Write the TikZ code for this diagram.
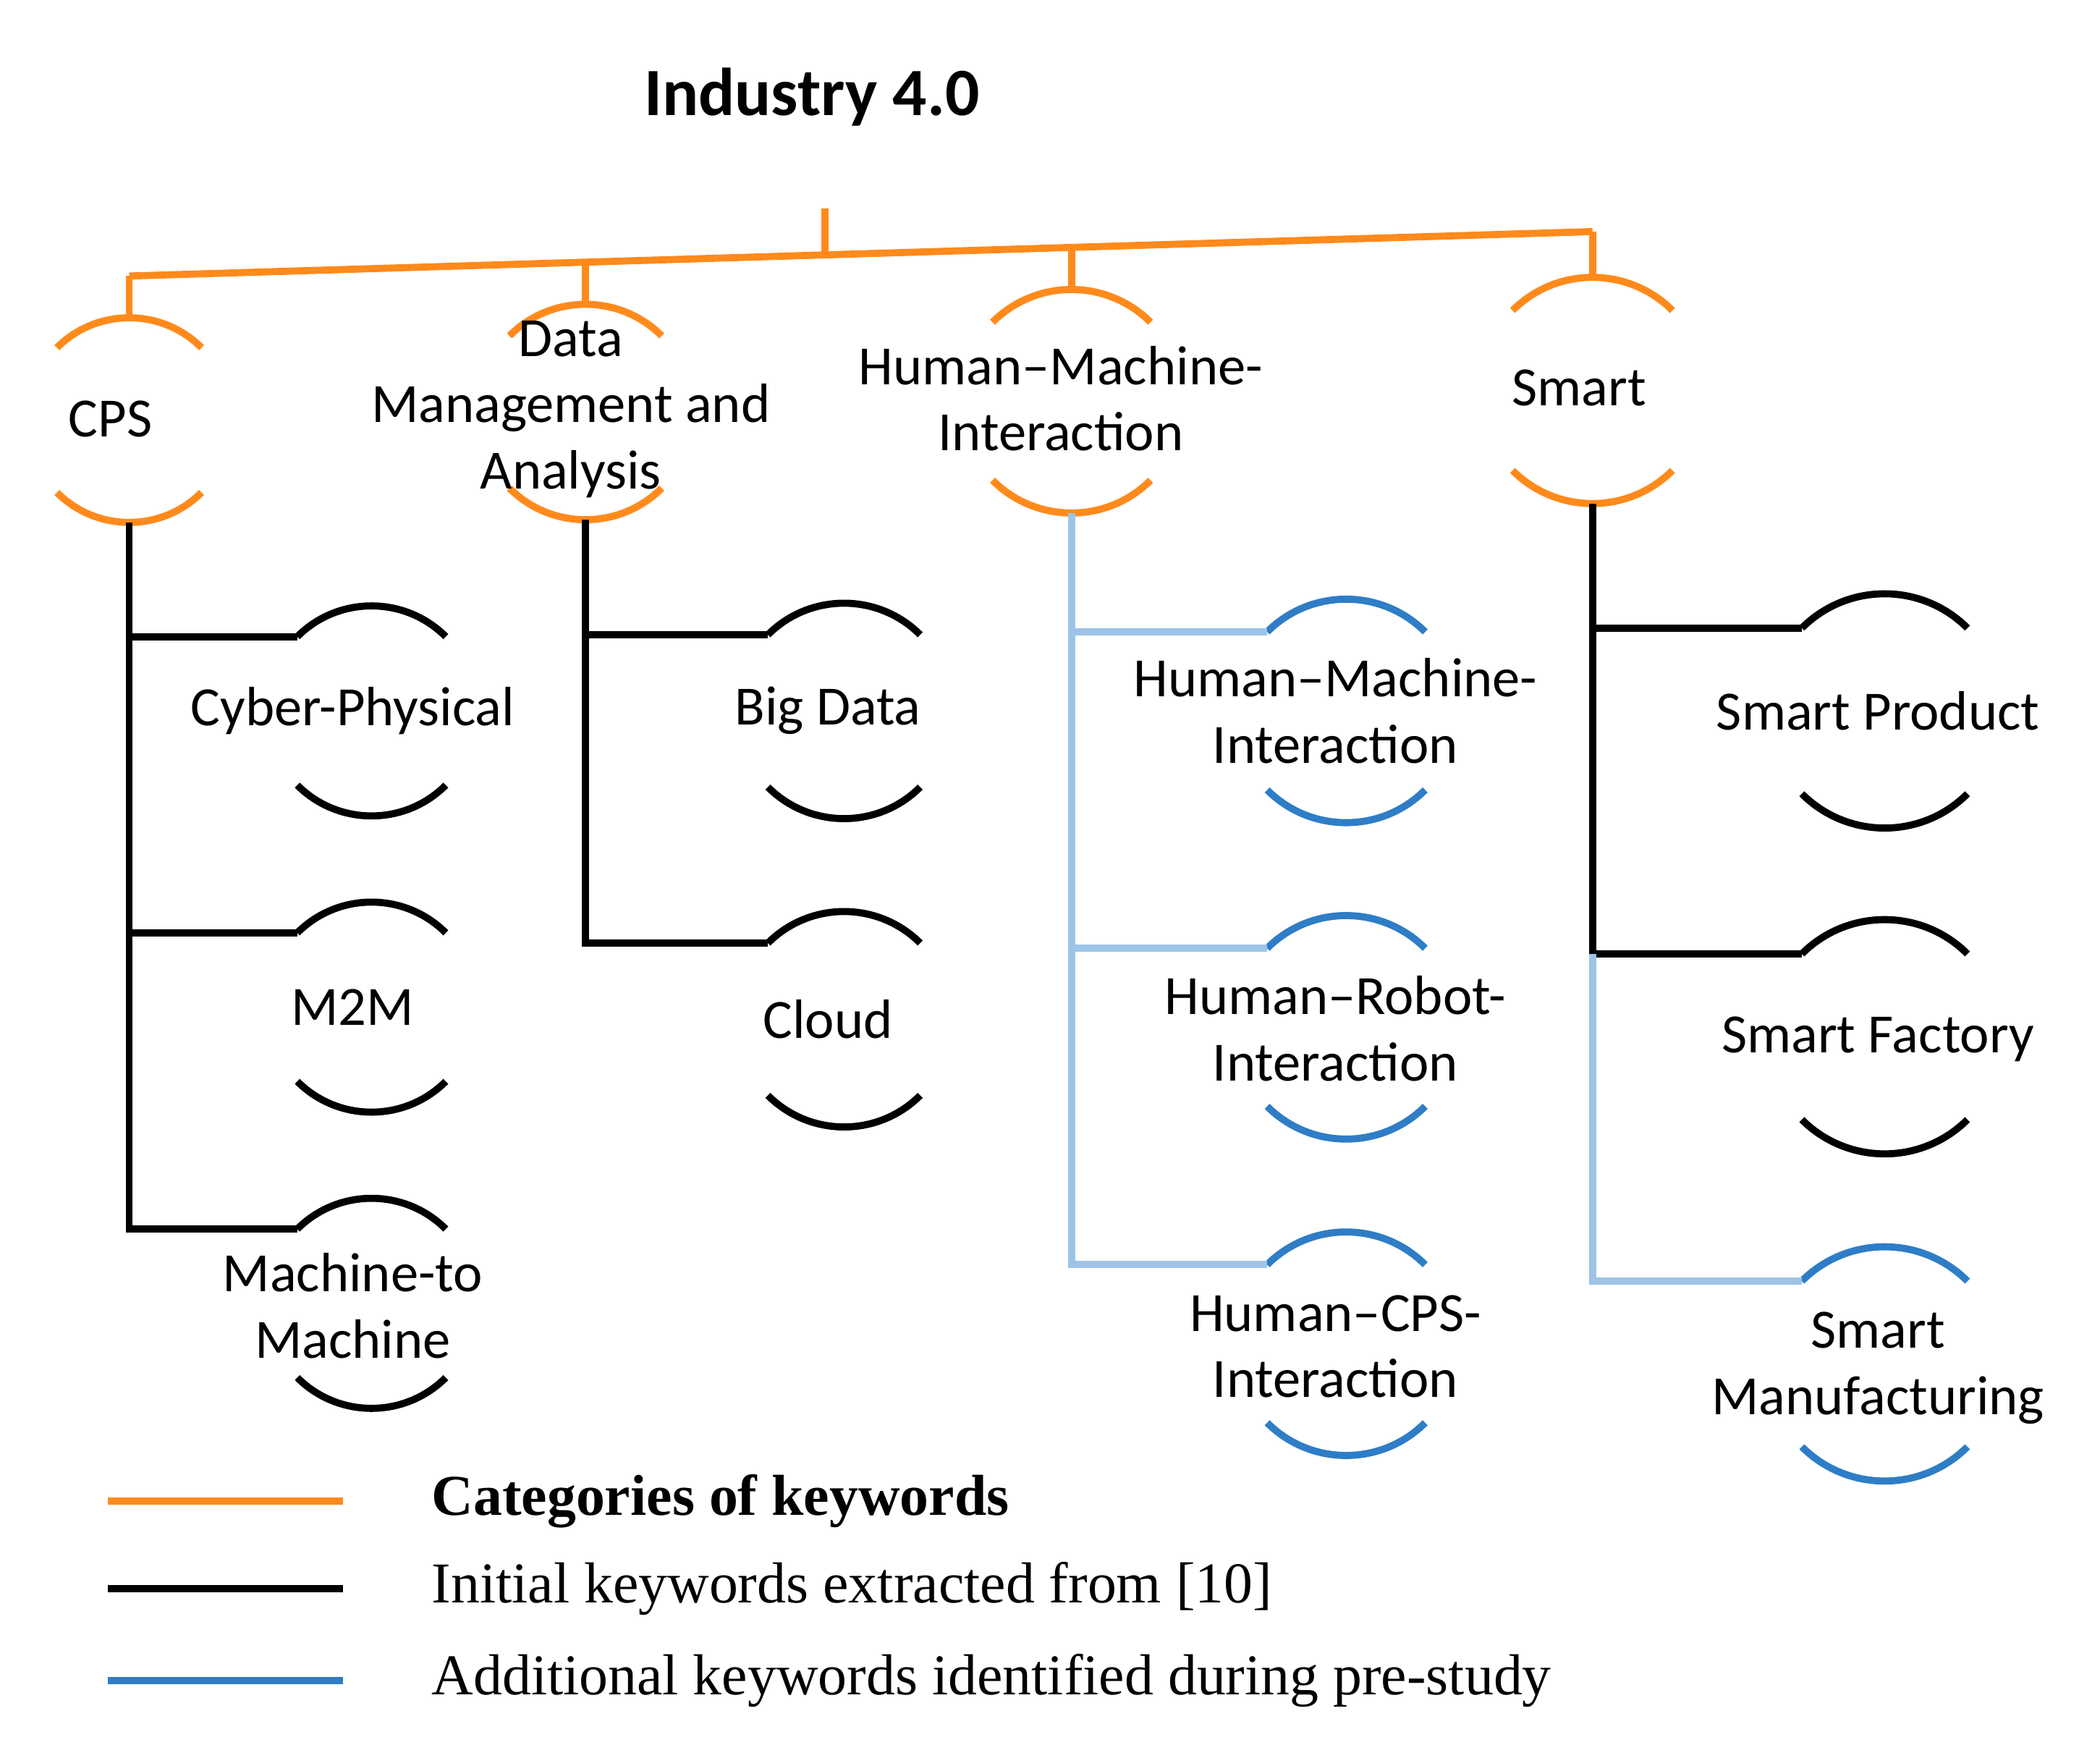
\documentclass[tikz,border=0pt]{standalone}
\usepackage{fontspec}
\usetikzlibrary{calc}
\setmainfont{Carlito}
\newfontfamily\legfont{Liberation Serif}
\definecolor{corange}{HTML}{FF8A1C}
\definecolor{cblue}{HTML}{2E7DC6}
\definecolor{clblue}{HTML}{9DC3E6}
\begin{document}
\begin{tikzpicture}[x=0.01cm,y=-0.01cm,
  cat/.style={draw=corange, line width=1.5pt},
  ini/.style={draw=black, line width=1.5pt},
  add/.style={draw=clblue, line width=1.5pt},
  addarc/.style={draw=cblue, line width=1.5pt},
  lab/.style={align=center, font=\fontsize{11.7}{14}\selectfont, inner sep=0pt},
  leg/.style={anchor=west, font=\legfont\fontsize{12.2}{15}\selectfont, inner sep=0pt}]
\useasboundingbox (0,0) rectangle (1560,1296);
\newcommand\brk[4]{%
  \coordinate (#1) at #2;
  \draw[#4] (#1) ++(-45:#3) arc[start angle=-45,end angle=-135,radius=#3];
  \draw[#4] (#1) ++(45:#3) arc[start angle=45,end angle=135,radius=#3];
  \coordinate (#1L) at ($(#1)+(-135:#3)$);
  \coordinate (#1T) at ($(#1)+(0,-#3)$);
  \coordinate (#1B) at ($(#1)+(0,#3)$);}
\node[font=\fontsize{14.3}{17}\selectfont\bfseries] (title) at (603,72) {Industry 4.0};
% categories
\brk{cps}{(96,312)}{76}{cat}
\brk{dma}{(435,306)}{80}{cat}
\brk{hmi}{(796,298)}{83}{cat}
\brk{sm}{(1183,290)}{84}{cat}
\coordinate (stemT) at (613,155);
\coordinate (stemB) at (613,187);
\coordinate (hL) at (96,205);
\coordinate (hR) at (1183,172);
\draw[cat] (stemT) -- (stemB);
\draw[cat] (hL) -- (hR);
\draw[cat] (hL) -- (cpsT);
\draw[cat] (hR) -- (smT);
\draw[cat] (435,195) -- (dmaT);
\draw[cat] (796,185) -- (hmiT);
\node[lab] (lcps) at (82,311) {CPS};
\node[lab] (ldma) at (424,304) {Data\\Management and\\Analysis};
\node[lab] (lhmi) at (788,296) {Human--Machine-\\Interaction};
\node[lab] (lsm) at (1173,288) {Smart};
% CPS children
\brk{c1}{(276,528)}{78}{ini}
\brk{c2}{(276,748)}{78}{ini}
\brk{c3}{(276,968)}{78}{ini}
\draw[ini] (cpsB) -- (cpsB |- c3L) -- (c3L);
\draw[ini] (cpsB |- c1L) -- (c1L);
\draw[ini] (cpsB |- c2L) -- (c2L);
\node[lab] (lc1) at (262,528) {Cyber-Physical};
\node[lab] (lc2) at (262,748) {M2M};
\node[lab] (lc3) at (262,970) {Machine-to\\Machine};
% DMA children
\brk{d1}{(627,528)}{80}{ini}
\brk{d2}{(627,757)}{80}{ini}
\draw[ini] (dmaB) -- (dmaB |- d2L) -- (d2L);
\draw[ini] (dmaB |- d1L) -- (d1L);
\node[lab] (ld1) at (615,528) {Big Data};
\node[lab] (ld2) at (615,757) {Cloud};
% HMI children
\brk{h1}{(1000,528)}{83}{addarc}
\brk{h2}{(1000,763)}{83}{addarc}
\brk{h3}{(1000,998)}{83}{addarc}
\draw[add] (hmiB) -- (hmiB |- h3L) -- (h3L);
\draw[add] (hmiB |- h1L) -- (h1L);
\draw[add] (hmiB |- h2L) -- (h2L);
\node[lab] (lh1) at (992,528) {Human--Machine-\\Interaction};
\node[lab] (lh2) at (992,764) {Human--Robot-\\Interaction};
\node[lab] (lh3) at (992,1000) {Human--CPS-\\Interaction};
% Smart children
\brk{s1}{(1400,528)}{87}{ini}
\brk{s2}{(1400,770)}{87}{ini}
\brk{s3}{(1400,1013)}{87}{addarc}
\coordinate (sv) at (smB |- s2L);
\draw[ini] (smB) -- (sv) -- (s2L);
\draw[ini] (smB |- s1L) -- (s1L);
\draw[add] (sv) -- (smB |- s3L) -- (s3L);
\node[lab] (ls1) at (1395,528) {Smart Product};
\node[lab] (ls2) at (1395,772) {Smart Factory};
\node[lab] (ls3) at (1395,1016) {Smart\\Manufacturing};
% legend
\coordinate (l1a) at (80,1115); \coordinate (l1b) at (255,1115);
\coordinate (l2a) at (80,1180); \coordinate (l2b) at (255,1180);
\coordinate (l3a) at (80,1248); \coordinate (l3b) at (255,1248);
\draw[cat] (l1a) -- (l1b);
\draw[ini] (l2a) -- (l2b);
\draw[addarc] (l3a) -- (l3b);
\node[leg,font=\legfont\fontsize{12.2}{15}\selectfont\bfseries] (t1) at (320,1115) {Categories of keywords};
\node[leg] (t2) at (320,1180) {Initial keywords extracted from [10]};
\node[leg] (t3) at (320,1248) {Additional keywords identified during pre-study};
\end{tikzpicture}
\end{document}
